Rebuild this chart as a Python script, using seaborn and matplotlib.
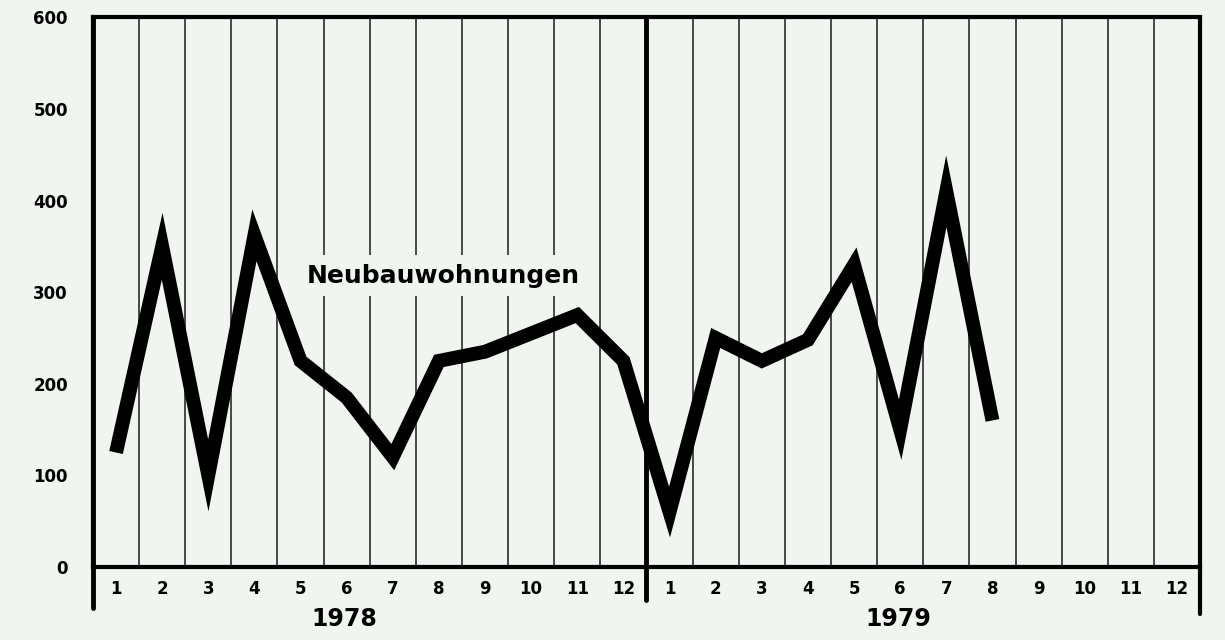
import matplotlib.pyplot as plt
import numpy as np
import pandas as pd
import seaborn as sns

# Monatswerte (Neubauwohnungen), 1978-01 bis 1979-08
years = ["1978", "1979"]
month_labels = [str(m) for m in range(1, 13)] * 2
values = [125, 350, 100, 362, 225, 185, 120, 225, 235, 255, 275, 225,
          60, 250, 225, 248, 330, 150, 410, 160]
series_label = "Neubauwohnungen"
y_ticks = [0, 100, 200, 300, 400, 500, 600]

bg = "#f0f5f0"
sns.set_theme(style="white")
plt.rcParams["font.family"] = ["DejaVu Sans"]
plt.rcParams["font.weight"] = "bold"
plt.rcParams["text.color"] = "black"
plt.rcParams["xtick.color"] = "black"
plt.rcParams["ytick.color"] = "black"

df = pd.DataFrame({"pos": np.arange(len(values)) + 0.5, "value": values})

fig = plt.figure(figsize=(12.25, 6.4), dpi=100, facecolor=bg)
ax = fig.add_axes([0.0759, 0.114, 0.9037, 0.859])
ax.set_facecolor(bg)

sns.lineplot(data=df, x="pos", y="value", ax=ax, color="black", lw=10,
             solid_joinstyle="miter", solid_capstyle="butt", zorder=5)

n_months = len(month_labels)
ax.set_xlim(0, n_months)
ax.set_ylim(0, 600)

# month boundaries as grid lines, labels at month centres
ax.set_xticks(np.arange(0, n_months + 1))
ax.set_xticklabels([])
ax.set_xticks(np.arange(n_months) + 0.5, minor=True)
ax.set_xticklabels(month_labels, minor=True, fontsize=12, fontweight="bold")
ax.tick_params(axis="x", which="major", direction="out", length=12, width=1.3, color="#333333")
ax.tick_params(axis="x", which="minor", length=0, pad=9)
ax.grid(axis="x", which="major", color="#3a3a3a", lw=1.3)

ax.set_yticks(y_ticks)
ax.set_yticklabels([str(t) for t in y_ticks], fontsize=12, fontweight="bold")
ax.tick_params(axis="y", direction="out", length=12, width=2.5, color="black", pad=6)

for side in ["left", "bottom", "top"]:
    ax.spines[side].set_color("black")
    ax.spines[side].set_linewidth(3)
ax.spines["right"].set_visible(False)

# year dividers extending below the axis
ax.axvline(0, ymin=-0.075, ymax=1, color="black", lw=3.5, clip_on=False)
ax.axvline(12, ymin=-0.06, ymax=1, color="black", lw=3.5, clip_on=False)
ax.axvline(24, ymin=-0.085, ymax=1, color="black", lw=3, clip_on=False)

for i, yr in enumerate(years):
    ax.text(i * 12 + 5.45, -0.095, yr, transform=ax.get_xaxis_transform(),
            ha="center", va="center", fontsize=17, fontweight="bold")

ax.text(7.6, 318, series_label, ha="center", va="center", fontsize=18,
        fontweight="bold", zorder=6,
        bbox=dict(facecolor=bg, edgecolor="none", pad=6))

ax.set_xlabel("")
ax.set_ylabel("")
fig.savefig("out.png", dpi=100, facecolor=bg)
